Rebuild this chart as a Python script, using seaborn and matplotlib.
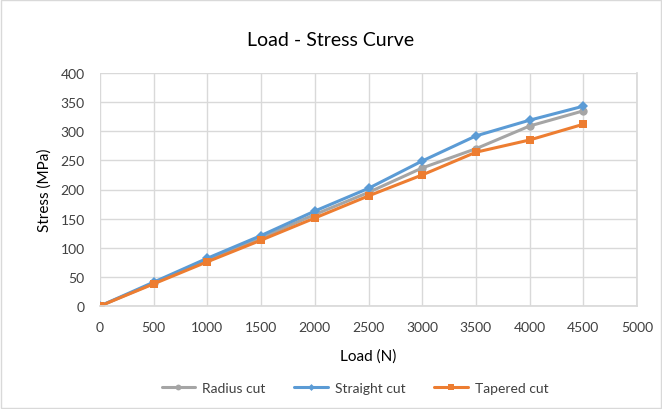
import matplotlib
matplotlib.use("Agg")
import matplotlib.pyplot as plt
import seaborn as sns
import pandas as pd

load = [0, 500, 1000, 1500, 2000, 2500, 3000, 3500, 4000, 4500]
radius_cut = [0, 39, 79, 117, 157, 195, 237, 270, 309, 335]
straight_cut = [0, 41, 82, 121, 163, 202, 249, 292, 319, 343]
tapered_cut = [0, 38, 76, 113, 151, 189, 225, 264, 285, 312]
series_names = ["Radius cut", "Straight cut", "Tapered cut"]

sns.set_theme(style="whitegrid")
plt.rcParams['font.family'] = ['Lato', 'DejaVu Sans']

fig = plt.figure(figsize=(6.62, 4.10), dpi=100)
ax = fig.add_axes([100/662, 1-307/410, (637-100)/662, (307-74)/410])

styles = {
    "Radius cut": dict(color="#A5A5A5", marker="o", ms=6),
    "Straight cut": dict(color="#5B9BD5", marker="D", ms=5),
    "Tapered cut": dict(color="#ED7D31", marker="s", ms=6),
}
for name, vals in zip(series_names, [radius_cut, straight_cut, tapered_cut]):
    df = pd.DataFrame({"Load": load, "Stress": vals})
    st = styles[name]
    sns.lineplot(data=df, x="Load", y="Stress", ax=ax, color=st["color"],
                 marker=st["marker"], markersize=st["ms"], markeredgewidth=0,
                 linewidth=2.2, label=name)

ax.set_xlim(0, 5000)
ax.set_ylim(0, 400)
ax.set_xticks(range(0, 5001, 500))
ax.set_yticks(range(0, 401, 50))
ax.tick_params(axis='x', labelsize=10, colors="#404040", length=0, pad=11)
ax.tick_params(axis='y', labelsize=10, colors="#404040", length=0, pad=11)
ax.grid(True, color="#D9D9D9", linewidth=1)
ax.spines["top"].set_visible(False)
ax.spines["left"].set_visible(False)
ax.spines["bottom"].set_color("#D9D9D9")
ax.spines["right"].set_visible(True)
ax.spines["right"].set_color("#D9D9D9")
ax.set_xlabel("Load (N)", fontsize=11, color="#000000", labelpad=11)
ax.set_ylabel("Stress (MPa)", fontsize=11, color="#000000", labelpad=6)
fig.text(0.5, 1-40/410, "Load - Stress Curve", ha="center", va="center", fontsize=14, color="#000000")

leg = ax.legend(loc="center", bbox_to_anchor=(355/662, 1-389/410), bbox_transform=fig.transFigure,
                ncol=3, frameon=False, fontsize=10, handlelength=2.4, handletextpad=0.5,
                columnspacing=2.1, markerscale=0.7)
for t in leg.get_texts():
    t.set_color("#404040")

fig.patches.append(plt.Rectangle((0.002, 0.002), 0.996, 0.996, transform=fig.transFigure,
                                 fill=False, edgecolor="#D9D9D9", linewidth=1))
fig.savefig("out.png", dpi=100)
